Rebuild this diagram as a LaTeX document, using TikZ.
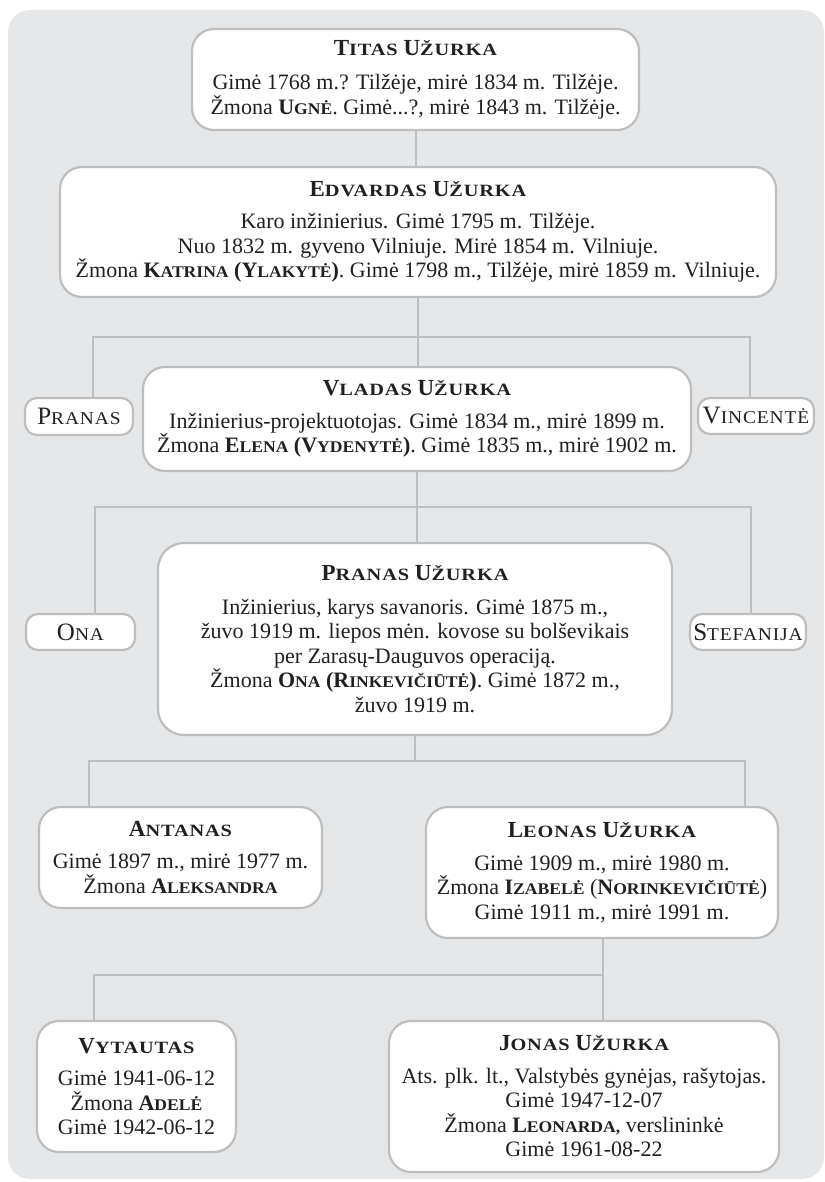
\documentclass[tikz,border=0pt]{standalone}
\usepackage{fontspec}
\setmainfont{Liberation Serif}
\newfontfamily\smcf{Liberation Serif}[Scale=0.74,FakeStretch=1.08]
\newfontfamily\ttcap{Liberation Serif}[LetterSpace=3]
\newfontfamily\ttsm{Liberation Serif}[Scale=0.75,FakeStretch=1.18,LetterSpace=5]
\newfontfamily\sbcap{Liberation Serif}[LetterSpace=4]
\newfontfamily\sbsm{Liberation Serif}[Scale=0.72,FakeStretch=1.08,LetterSpace=5]
\newcommand\nm[2]{{\bfseries #1{\smcf #2}}}
\newcommand\tn[2]{{\bfseries\ttcap #1{\ttsm #2}}}
\newcommand\sn[2]{{\sbcap #1{\sbsm #2}}}
\newcommand\ttl[1]{{\fontsize{23}{24}\selectfont #1}}
\definecolor{panel}{HTML}{E6E7E8}
\definecolor{bord}{HTML}{BCBEC0}
\definecolor{txt}{HTML}{231F20}
\tikzset{
  box/.style={draw=bord, line width=2.2pt, fill=white, rounded corners=22pt,
    inner sep=0pt, align=center, text=txt, font=\fontsize{22}{24.5}\selectfont},
  sbox/.style={box, rounded corners=12pt, font=\fontsize{25}{25}\selectfont},
  conn/.style={draw=bord, line width=2pt}
}
\begin{document}
\begin{tikzpicture}[x=1pt,y=-1pt]
\useasboundingbox (0,0) rectangle (824,1182);
\fill[panel, rounded corners=22pt] (8,10) rectangle (824,1179);

\node[box, minimum width=447, minimum height=101] (titas) at (415.5,79.5)
 {\ttl{\tn{T}{ITAS} \tn{U}{ŽURKA}}\\[10pt]
  Gimė 1768 m.? Tilžėje, mirė 1834 m. Tilžėje.\\
  Žmona \nm{U}{GNĖ}. Gimė...?, mirė 1843 m. Tilžėje.};

\node[box, minimum width=716, minimum height=130] (edv) at (418,232)
 {\ttl{\tn{E}{DVARDAS} \tn{U}{ŽURKA}}\\[8pt]
  Karo inžinierius. Gimė 1795 m. Tilžėje.\\
  Nuo 1832 m. gyveno Vilniuje. Mirė 1854 m. Vilniuje.\\
  Žmona \nm{K}{ATRINA} \nm{(Y}{LAKYTĖ}\textbf{)}. Gimė 1798 m., Tilžėje, mirė 1859 m. Vilniuje.};

\node[box, minimum width=548, minimum height=104] (vlad) at (417,419)
 {\ttl{\tn{V}{LADAS} \tn{U}{ŽURKA}}\\[8pt]
  Inžinierius-projektuotojas. Gimė 1834 m., mirė 1899 m.\\
  Žmona \nm{E}{LENA} \nm{(V}{YDENYTĖ}\textbf{)}. Gimė 1835 m., mirė 1902 m.};

\node[sbox, minimum width=108, minimum height=37] (pranas) at (79,416.5) {\sn{P}{RANAS}};
\node[sbox, minimum width=116, minimum height=36] (vinc) at (756,416) {\sn{V}{INCENTĖ}};

\node[box, rounded corners=26pt, minimum width=514, minimum height=192] (pru) at (415,639)
 {\ttl{\tn{P}{RANAS} \tn{U}{ŽURKA}}\\[9pt]
  Inžinierius, karys savanoris. Gimė 1875 m.,\\
  žuvo 1919 m. liepos mėn. kovose su bolševikais\\
  per Zarasų-Dauguvos operaciją.\\
  Žmona \nm{O}{NA} \nm{(R}{INKEVIČIŪTĖ}\textbf{)}. Gimė 1872 m.,\\
  žuvo 1919 m.};

\node[sbox, minimum width=109, minimum height=36] (ona) at (80.5,632) {\sn{O}{NA}};
\node[sbox, minimum width=116, minimum height=36] (stef) at (748,632) {\sn{S}{TEFANIJA}};

\node[box, minimum width=283, minimum height=101] (ant) at (180.5,857.5)
 {\ttl{\tn{A}{NTANAS}}\\[8pt]
  Gimė 1897 m., mirė 1977 m.\\
  Žmona \nm{A}{LEKSANDRA}};

\node[box, minimum width=352, minimum height=131] (leon) at (602,872.5)
 {\ttl{\tn{L}{EONAS} \tn{U}{ŽURKA}}\\[8pt]
  Gimė 1909 m., mirė 1980 m.\\
  Žmona \nm{I}{ZABELĖ} (\nm{N}{ORINKEVIČIŪTĖ})\\
  Gimė 1911 m., mirė 1991 m.};

\node[box, minimum width=199, minimum height=131] (vyt) at (136.5,1086.5)
 {\ttl{\tn{V}{YTAUTAS}}\\[8pt]
  Gimė 1941-06-12\\
  Žmona \nm{A}{DELĖ}\\
  Gimė 1942-06-12};

\node[box, minimum width=390, minimum height=151] (jonas) at (584,1096.5)
 {\ttl{\tn{J}{ONAS} \tn{U}{ŽURKA}}\\[8pt]
  Ats. plk. lt., Valstybės gynėjas, rašytojas.\\
  Gimė 1947-12-07\\
  Žmona \nm{L}{EONARDA,} verslininkė\\
  Gimė 1961-08-22};

% connectors
\coordinate (f1l) at (93,337);  \coordinate (f1r) at (750,337);
\coordinate (f2l) at (95,507);  \coordinate (f2r) at (751,507);
\coordinate (f3l) at (89,761);  \coordinate (f3r) at (745,761);
\coordinate (f4l) at (94,975);  \coordinate (f4r) at (603,975);

\draw[conn] (titas.south) -- (titas.south |- edv.north);

\draw[conn] (edv.south) -- (edv.south |- vlad.north);
\draw[conn] (f1l |- pranas.north) -- (f1l) -- (f1r) -- (f1r |- vinc.north);

\draw[conn] (vlad.south) -- (vlad.south |- pru.north);
\draw[conn] (f2l |- ona.north) -- (f2l) -- (f2r) -- (f2r |- stef.north);

\draw[conn] (pru.south) -- (pru.south |- f3l);
\draw[conn] (f3l |- ant.north) -- (f3l) -- (f3r) -- (f3r |- leon.north);

\draw[conn] (f4r |- leon.south) -- (f4r |- jonas.north);
\draw[conn] (f4l |- vyt.north) -- (f4l) -- (f4r);
\end{tikzpicture}
\end{document}
